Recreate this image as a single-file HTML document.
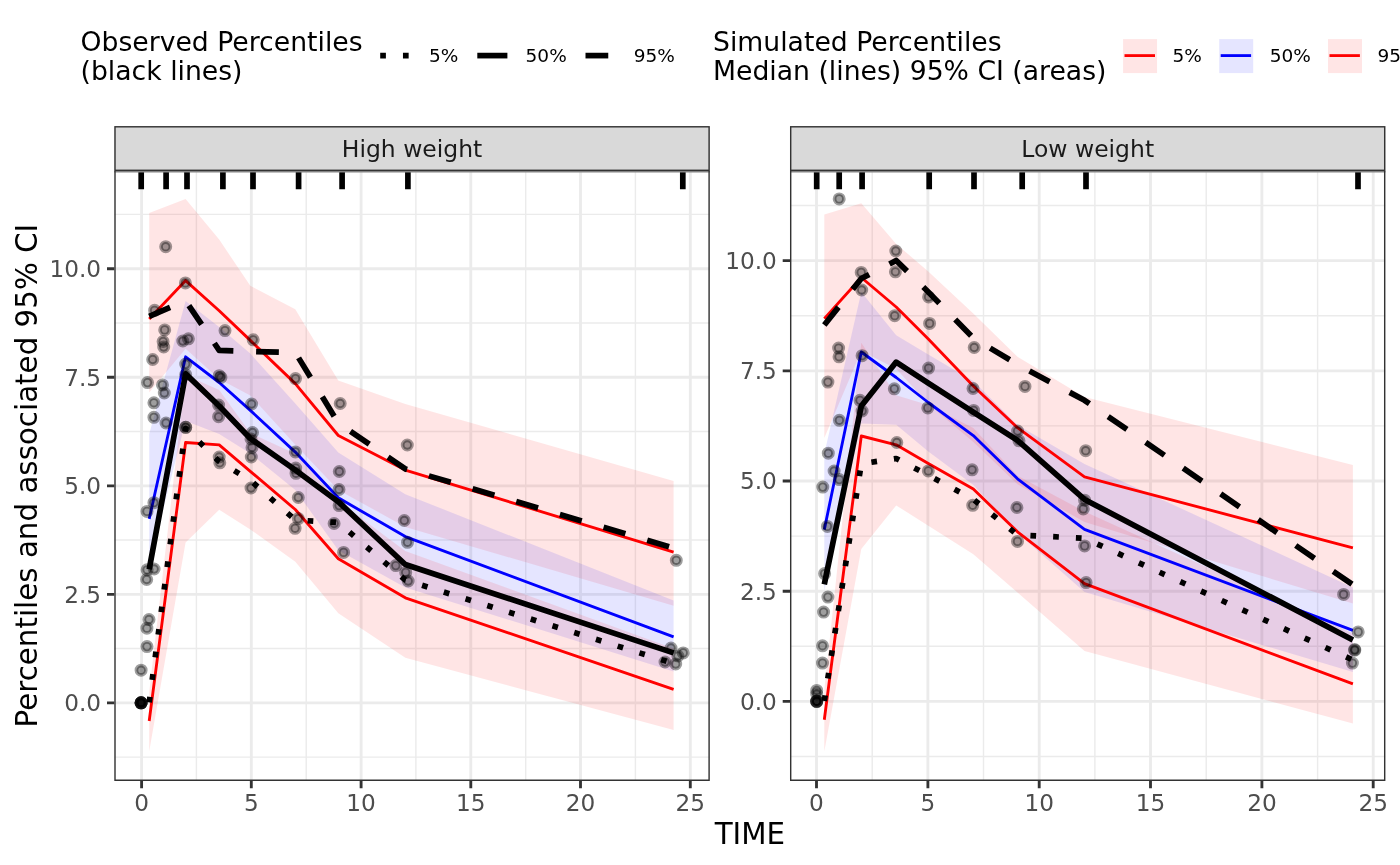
<!DOCTYPE html>
<html lang="en">
<head>
<meta charset="utf-8">
<title>VPC</title>
<style>html,body{margin:0;padding:0;background:#fff}svg{display:block}</style>
</head>
<body>
<svg width="1400" height="865" viewBox="0 0 1400 865" font-family="'DejaVu Sans', 'Liberation Sans', sans-serif">
<rect width="1400" height="865" fill="#fff"/>
<clipPath id="clip1"><rect x="114.3" y="171" width="595.5" height="609.9"/></clipPath>
<rect x="114.3" y="171" width="595.5" height="609.9" fill="#fff"/>
<g clip-path="url(#clip1)">
<path d="M114.3 757.1H709.8M114.3 648.5H709.8M114.3 540H709.8M114.3 431.5H709.8M114.3 323H709.8M114.3 214.4H709.8M196.4 171V780.9M306.2 171V780.9M415.9 171V780.9M525.7 171V780.9M635.4 171V780.9" stroke="#ebebeb" stroke-width="1.42" fill="none"/>
<path d="M114.3 702.8H709.8M114.3 594.3H709.8M114.3 485.8H709.8M114.3 377.2H709.8M114.3 268.7H709.8M141.6 171V780.9M251.3 171V780.9M361.1 171V780.9M470.8 171V780.9M580.5 171V780.9M690.3 171V780.9" stroke="#ebebeb" stroke-width="2.85" fill="none"/>
<polygon points="149.2,212.9 185.6,198.9 219.2,239.6 250.3,285.7 295.3,309.3 338.3,380.4 405.3,403.9 673.6,481 673.6,605.7 405.3,527 338.3,490 295.3,444.8 250.3,395.5 219.2,379 185.6,348.8 149.2,392.5" fill="#f00" fill-opacity="0.1"/>
<polygon points="149.2,434 185.6,301 219.2,326.9 250.3,353.6 295.3,403.4 338.3,452.5 405.3,494.2 673.6,600.4 673.6,671.5 405.3,587.4 338.3,550.3 295.3,490 250.3,453.5 219.2,433.9 185.6,421 149.2,565" fill="#00f" fill-opacity="0.1"/>
<polygon points="149.2,692 185.6,375 219.2,390.1 250.3,433 295.3,453.8 338.3,501 405.3,551 673.6,648.6 673.6,730 405.3,657.8 338.3,613.2 295.3,561.8 250.3,529.4 219.2,509.7 185.6,542.5 149.2,751.4" fill="#f00" fill-opacity="0.1"/>
<polyline points="149.2,318.9 185.6,280.6 219.2,310.7 250.3,340.4 295.3,383.6 338.3,435.5 405.3,470.1 673.6,552.1" fill="none" stroke="#f00" stroke-width="2.85" stroke-linejoin="round"/>
<polyline points="149.2,518.9 185.6,356.8 219.2,382.5 250.3,410.4 295.3,452.1 338.3,497.8 405.3,536.6 673.6,636.8" fill="none" stroke="#00f" stroke-width="2.85" stroke-linejoin="round"/>
<polyline points="149.2,721 185.6,442.5 219.2,444.9 250.3,471.3 295.3,509.5 338.3,558.7 405.3,597.8 673.6,689.3" fill="none" stroke="#f00" stroke-width="2.85" stroke-linejoin="round"/>
<polyline points="149.2,569.3 185.6,373.9 219.2,406 250.3,438.5 295.3,470 338.3,501.7 405.3,564.5 673.6,652.9" fill="none" stroke="#000" stroke-width="5.69" stroke-linejoin="round"/>
<polyline points="149.2,702.4 185.6,428.3 219.2,461.6 250.3,480.3 295.3,520 338.3,522.6 405.3,580 673.6,663.5" fill="none" stroke="#000" stroke-width="5.69" stroke-linejoin="round" stroke-dasharray="5.69 17.07"/>
<polyline points="149.2,316.4 185.6,300.7 219.2,350.4 250.3,351.5 295.3,352.5 338.3,423 405.3,468.9 673.6,548" fill="none" stroke="#000" stroke-width="5.69" stroke-linejoin="round" stroke-dasharray="22.76 22.76"/>
<g fill="#000" fill-opacity="0.38" stroke="#000" stroke-opacity="0.38" stroke-width="3.7">
<circle cx="165.7" cy="246.7" r="4.65"/>
<circle cx="185.4" cy="282.9" r="4.65"/>
<circle cx="154.6" cy="310.3" r="4.65"/>
<circle cx="164.7" cy="329.9" r="4.65"/>
<circle cx="225" cy="330.6" r="4.65"/>
<circle cx="253.2" cy="339.8" r="4.65"/>
<circle cx="163.1" cy="341.5" r="4.65"/>
<circle cx="163.7" cy="347" r="4.65"/>
<circle cx="182.8" cy="341" r="4.65"/>
<circle cx="188.4" cy="338.8" r="4.65"/>
<circle cx="152.7" cy="359.5" r="4.65"/>
<circle cx="185.7" cy="364.1" r="4.65"/>
<circle cx="185.7" cy="374.5" r="4.65"/>
<circle cx="219.2" cy="375.7" r="4.65"/>
<circle cx="220.9" cy="377.4" r="4.65"/>
<circle cx="295.5" cy="378.6" r="4.65"/>
<circle cx="147.5" cy="382.6" r="4.65"/>
<circle cx="162.5" cy="384.9" r="4.65"/>
<circle cx="164.3" cy="393" r="4.65"/>
<circle cx="153.9" cy="402.8" r="4.65"/>
<circle cx="251.6" cy="404" r="4.65"/>
<circle cx="218.6" cy="405.1" r="4.65"/>
<circle cx="340.2" cy="403.5" r="4.65"/>
<circle cx="153.9" cy="417.3" r="4.65"/>
<circle cx="218.6" cy="416.7" r="4.65"/>
<circle cx="166" cy="423" r="4.65"/>
<circle cx="185.7" cy="427.3" r="4.65"/>
<circle cx="185.7" cy="427.3" r="4.65"/>
<circle cx="252.5" cy="432.5" r="4.65"/>
<circle cx="251" cy="438.9" r="4.65"/>
<circle cx="252" cy="447.5" r="4.65"/>
<circle cx="251.3" cy="457" r="4.65"/>
<circle cx="251" cy="488" r="4.65"/>
<circle cx="407.3" cy="445" r="4.65"/>
<circle cx="295.4" cy="451.9" r="4.65"/>
<circle cx="295.7" cy="468.1" r="4.65"/>
<circle cx="296" cy="473.3" r="4.65"/>
<circle cx="298.3" cy="497.5" r="4.65"/>
<circle cx="298.3" cy="518.6" r="4.65"/>
<circle cx="295.1" cy="528.3" r="4.65"/>
<circle cx="339.3" cy="471.5" r="4.65"/>
<circle cx="339" cy="489.5" r="4.65"/>
<circle cx="339.1" cy="505.6" r="4.65"/>
<circle cx="334.1" cy="523.5" r="4.65"/>
<circle cx="343.6" cy="552.4" r="4.65"/>
<circle cx="404.3" cy="520.5" r="4.65"/>
<circle cx="407.5" cy="542.3" r="4.65"/>
<circle cx="395.8" cy="565.6" r="4.65"/>
<circle cx="405.7" cy="572.4" r="4.65"/>
<circle cx="408.2" cy="581" r="4.65"/>
<circle cx="219.2" cy="457" r="4.65"/>
<circle cx="219.8" cy="462.8" r="4.65"/>
<circle cx="153.9" cy="502.7" r="4.65"/>
<circle cx="147" cy="511.4" r="4.65"/>
<circle cx="147.1" cy="569.8" r="4.65"/>
<circle cx="154.1" cy="569" r="4.65"/>
<circle cx="146.7" cy="579.5" r="4.65"/>
<circle cx="149" cy="619.5" r="4.65"/>
<circle cx="146.9" cy="628.2" r="4.65"/>
<circle cx="147" cy="646.6" r="4.65"/>
<circle cx="141.1" cy="670.2" r="4.65"/>
<circle cx="141.1" cy="702.8" r="4.65"/>
<circle cx="141.1" cy="702.8" r="4.65"/>
<circle cx="141.1" cy="702.8" r="4.65"/>
<circle cx="141.1" cy="702.8" r="4.65"/>
<circle cx="141.1" cy="702.8" r="4.65"/>
<circle cx="141.1" cy="702.8" r="4.65"/>
<circle cx="676.3" cy="560.3" r="4.65"/>
<circle cx="671" cy="648" r="4.65"/>
<circle cx="683.2" cy="652.9" r="4.65"/>
<circle cx="677.9" cy="656" r="4.65"/>
<circle cx="665" cy="662" r="4.65"/>
<circle cx="675.7" cy="664" r="4.65"/>
</g>
<path d="M141.2 171V189.3M166.1 171V189.3M187 171V189.3M222.9 171V189.3M253 171V189.3M298.6 171V189.3M342.1 171V189.3M407.9 171V189.3M682.8 171V189.3" stroke="#000" stroke-width="5.69" fill="none"/>
</g>
<path d="M114.3 171.7H709.8" fill="none" stroke="#858585" stroke-width="1.42"/>
<path d="M115 171V780.2H709.1V171" fill="none" stroke="#333" stroke-width="1.42"/>
<rect x="114.3" y="126.1" width="595.5" height="44.9" fill="#d9d9d9"/>
<rect x="115" y="126.8" width="594.1" height="43.5" fill="none" stroke="#333" stroke-width="1.42"/>
<text x="412" y="156.5" text-anchor="middle" font-size="23.47" fill="#1a1a1a">High weight</text>
<text x="141.6" y="810.8" text-anchor="middle" font-size="23.2" fill="#4d4d4d">0</text>
<text x="251.3" y="810.8" text-anchor="middle" font-size="23.2" fill="#4d4d4d">5</text>
<text x="361.1" y="810.8" text-anchor="middle" font-size="23.2" fill="#4d4d4d">10</text>
<text x="470.8" y="810.8" text-anchor="middle" font-size="23.2" fill="#4d4d4d">15</text>
<text x="580.5" y="810.8" text-anchor="middle" font-size="23.2" fill="#4d4d4d">20</text>
<text x="690.3" y="810.8" text-anchor="middle" font-size="23.2" fill="#4d4d4d">25</text>
<text x="101.1" y="711.1" text-anchor="end" font-size="23.2" fill="#4d4d4d">0.0</text>
<text x="101.1" y="602.6" text-anchor="end" font-size="23.2" fill="#4d4d4d">2.5</text>
<text x="101.1" y="494.1" text-anchor="end" font-size="23.2" fill="#4d4d4d">5.0</text>
<text x="101.1" y="385.5" text-anchor="end" font-size="23.2" fill="#4d4d4d">7.5</text>
<text x="101.1" y="277" text-anchor="end" font-size="23.2" fill="#4d4d4d">10.0</text>
<path d="M141.6 780.9v7.3M251.3 780.9v7.3M361.1 780.9v7.3M470.8 780.9v7.3M580.5 780.9v7.3M690.3 780.9v7.3M114.3 702.8h-7.3M114.3 594.3h-7.3M114.3 485.8h-7.3M114.3 377.2h-7.3M114.3 268.7h-7.3" stroke="#333" stroke-width="2.85" fill="none"/>
<clipPath id="clip2"><rect x="790" y="171" width="595.4" height="609.9"/></clipPath>
<rect x="790" y="171" width="595.4" height="609.9" fill="#fff"/>
<g clip-path="url(#clip2)">
<path d="M790 756.5H1385.4M790 646.3H1385.4M790 536.1H1385.4M790 425.9H1385.4M790 315.7H1385.4M790 205.5H1385.4M872.2 171V780.9M983.5 171V780.9M1094.9 171V780.9M1206.2 171V780.9M1317.6 171V780.9" stroke="#ebebeb" stroke-width="1.42" fill="none"/>
<path d="M790 701.4H1385.4M790 591.2H1385.4M790 481H1385.4M790 370.8H1385.4M790 260.6H1385.4M816.5 171V780.9M927.9 171V780.9M1039.2 171V780.9M1150.5 171V780.9M1261.9 171V780.9M1373.2 171V780.9" stroke="#ebebeb" stroke-width="2.85" fill="none"/>
<polygon points="824.3,214.4 861.3,203.2 896.2,243.9 928.3,271.4 973.3,313.6 1017.5,356.8 1084.5,397 1352.9,465 1352.9,603.6 1084.5,522 1017.5,484.3 973.3,442 928.3,404 896.2,368.7 861.3,351 824.3,438" fill="#f00" fill-opacity="0.1"/>
<polygon points="824.3,453.8 861.3,292 896.2,335.3 928.3,354.4 973.3,381 1017.5,425 1084.5,464 1352.9,587.5 1352.9,672.1 1084.5,592 1017.5,533 973.3,485 928.3,451.6 896.2,424.8 861.3,423.6 824.3,590.7" fill="#00f" fill-opacity="0.1"/>
<polygon points="824.3,690 861.3,342.7 896.2,395.3 928.3,405.1 973.3,428 1017.5,475.7 1084.5,511.5 1352.9,633.6 1352.9,723.6 1084.5,651 1017.5,592.5 973.3,554.3 928.3,525.7 896.2,505.4 861.3,548.9 824.3,751.4" fill="#f00" fill-opacity="0.1"/>
<polyline points="824.3,318.6 861.3,277.5 896.2,307 928.3,339 973.3,386 1017.5,427.7 1084.5,476.8 1352.9,547.9" fill="none" stroke="#f00" stroke-width="2.85" stroke-linejoin="round"/>
<polyline points="824.3,529.6 861.3,352 896.2,377.5 928.3,402.5 973.3,435.6 1017.5,478.8 1084.5,529.4 1352.9,630.4" fill="none" stroke="#00f" stroke-width="2.85" stroke-linejoin="round"/>
<polyline points="824.3,719.7 861.3,436 896.2,444.8 928.3,463.5 973.3,489.1 1017.5,531.8 1084.5,583.6 1352.9,683.9" fill="none" stroke="#f00" stroke-width="2.85" stroke-linejoin="round"/>
<polyline points="824.3,584.3 861.3,406.1 896.2,362.1 928.3,383.2 973.3,412.2 1017.5,440.3 1084.5,499.4 1352.9,640" fill="none" stroke="#000" stroke-width="5.69" stroke-linejoin="round"/>
<polyline points="824.3,701 861.3,463.7 896.2,458.5 928.3,475.2 973.3,499.3 1017.5,535 1084.5,538.2 1352.9,660" fill="none" stroke="#000" stroke-width="5.69" stroke-linejoin="round" stroke-dasharray="5.69 17.07"/>
<polyline points="824.3,324.9 861.3,278.5 896.2,260.5 928.3,292 973.3,338 1017.5,364.5 1084.5,400.3 1352.9,584.8" fill="none" stroke="#000" stroke-width="5.69" stroke-linejoin="round" stroke-dasharray="22.76 22.76"/>
<g fill="#000" fill-opacity="0.38" stroke="#000" stroke-opacity="0.38" stroke-width="3.7">
<circle cx="839.2" cy="198.9" r="4.65"/>
<circle cx="895.8" cy="251" r="4.65"/>
<circle cx="861.2" cy="272.4" r="4.65"/>
<circle cx="895.4" cy="271.8" r="4.65"/>
<circle cx="861.7" cy="290" r="4.65"/>
<circle cx="928.6" cy="296.9" r="4.65"/>
<circle cx="894.7" cy="315.7" r="4.65"/>
<circle cx="929.6" cy="323.4" r="4.65"/>
<circle cx="838.6" cy="348.1" r="4.65"/>
<circle cx="839" cy="356.8" r="4.65"/>
<circle cx="974.2" cy="347.5" r="4.65"/>
<circle cx="862.1" cy="355.7" r="4.65"/>
<circle cx="827.9" cy="382.1" r="4.65"/>
<circle cx="928.6" cy="368.1" r="4.65"/>
<circle cx="894.3" cy="388.8" r="4.65"/>
<circle cx="973" cy="388.5" r="4.65"/>
<circle cx="1025" cy="386.4" r="4.65"/>
<circle cx="860" cy="400.3" r="4.65"/>
<circle cx="862.1" cy="411" r="4.65"/>
<circle cx="927.8" cy="407.9" r="4.65"/>
<circle cx="973.6" cy="410.4" r="4.65"/>
<circle cx="839.4" cy="420.3" r="4.65"/>
<circle cx="1017.6" cy="431" r="4.65"/>
<circle cx="1019" cy="440.8" r="4.65"/>
<circle cx="896.8" cy="442.5" r="4.65"/>
<circle cx="1085.7" cy="450.7" r="4.65"/>
<circle cx="828.3" cy="453.2" r="4.65"/>
<circle cx="928.3" cy="470.9" r="4.65"/>
<circle cx="972.1" cy="469.8" r="4.65"/>
<circle cx="834.1" cy="471" r="4.65"/>
<circle cx="839.3" cy="479.6" r="4.65"/>
<circle cx="822.8" cy="487.1" r="4.65"/>
<circle cx="972.7" cy="505.3" r="4.65"/>
<circle cx="1016.9" cy="507.5" r="4.65"/>
<circle cx="1084.6" cy="500.2" r="4.65"/>
<circle cx="1083.3" cy="508.9" r="4.65"/>
<circle cx="827.4" cy="526.4" r="4.65"/>
<circle cx="1017.5" cy="541.4" r="4.65"/>
<circle cx="1084.6" cy="545.9" r="4.65"/>
<circle cx="824.6" cy="573.6" r="4.65"/>
<circle cx="1086.1" cy="582.6" r="4.65"/>
<circle cx="827.9" cy="597.1" r="4.65"/>
<circle cx="823.6" cy="612.1" r="4.65"/>
<circle cx="822.5" cy="645.8" r="4.65"/>
<circle cx="822.5" cy="663.1" r="4.65"/>
<circle cx="816.7" cy="690.4" r="4.65"/>
<circle cx="816.7" cy="694" r="4.65"/>
<circle cx="816.7" cy="701.3" r="4.65"/>
<circle cx="816.7" cy="701.3" r="4.65"/>
<circle cx="816.7" cy="701.3" r="4.65"/>
<circle cx="816.7" cy="701.3" r="4.65"/>
<circle cx="1343.6" cy="594.4" r="4.65"/>
<circle cx="1358.2" cy="631.9" r="4.65"/>
<circle cx="1354.6" cy="649.6" r="4.65"/>
<circle cx="1354.8" cy="650.2" r="4.65"/>
<circle cx="1352.4" cy="663.1" r="4.65"/>
</g>
<path d="M816.7 171V189.3M839.2 171V189.3M862.1 171V189.3M929.2 171V189.3M974 171V189.3M1022.2 171V189.3M1086 171V189.3M1358 171V189.3" stroke="#000" stroke-width="5.69" fill="none"/>
</g>
<path d="M790 171.7H1385.4" fill="none" stroke="#858585" stroke-width="1.42"/>
<path d="M790.7 171V780.2H1384.7V171" fill="none" stroke="#333" stroke-width="1.42"/>
<rect x="790" y="126.1" width="595.4" height="44.9" fill="#d9d9d9"/>
<rect x="790.7" y="126.8" width="594" height="43.5" fill="none" stroke="#333" stroke-width="1.42"/>
<text x="1087.7" y="156.5" text-anchor="middle" font-size="23.47" fill="#1a1a1a">Low weight</text>
<text x="816.5" y="810.8" text-anchor="middle" font-size="23.2" fill="#4d4d4d">0</text>
<text x="927.9" y="810.8" text-anchor="middle" font-size="23.2" fill="#4d4d4d">5</text>
<text x="1039.2" y="810.8" text-anchor="middle" font-size="23.2" fill="#4d4d4d">10</text>
<text x="1150.5" y="810.8" text-anchor="middle" font-size="23.2" fill="#4d4d4d">15</text>
<text x="1261.9" y="810.8" text-anchor="middle" font-size="23.2" fill="#4d4d4d">20</text>
<text x="1373.2" y="810.8" text-anchor="middle" font-size="23.2" fill="#4d4d4d">25</text>
<text x="776.8" y="709.7" text-anchor="end" font-size="23.2" fill="#4d4d4d">0.0</text>
<text x="776.8" y="599.5" text-anchor="end" font-size="23.2" fill="#4d4d4d">2.5</text>
<text x="776.8" y="489.3" text-anchor="end" font-size="23.2" fill="#4d4d4d">5.0</text>
<text x="776.8" y="379.1" text-anchor="end" font-size="23.2" fill="#4d4d4d">7.5</text>
<text x="776.8" y="268.9" text-anchor="end" font-size="23.2" fill="#4d4d4d">10.0</text>
<path d="M816.5 780.9v7.3M927.9 780.9v7.3M1039.2 780.9v7.3M1150.5 780.9v7.3M1261.9 780.9v7.3M1373.2 780.9v7.3M790 701.4h-7.3M790 591.2h-7.3M790 481h-7.3M790 370.8h-7.3M790 260.6h-7.3" stroke="#333" stroke-width="2.85" fill="none"/>
<text x="749.9" y="843.8" text-anchor="middle" font-size="29.33" fill="#000">TIME</text>
<text transform="translate(36.6,475.6) rotate(-90)" text-anchor="middle" font-size="29.33" fill="#000">Percentiles and associated 95% CI</text>
<text font-size="26.67" fill="#000"><tspan x="80.5" y="51.1">Observed Percentiles</tspan><tspan x="80.5" y="79.5">(black lines)</tspan></text>
<path d="M380.2 55.6H410.3" stroke="#000" stroke-width="5.69" stroke-dasharray="5.69 17.07" fill="none"/>
<path d="M477.3 55.6H507.4" stroke="#000" stroke-width="5.69" fill="none"/>
<path d="M585.5 55.6H615.6" stroke="#000" stroke-width="5.69" stroke-dasharray="22.76 22.76" fill="none"/>
<g font-size="18.5" fill="#000"><text x="429" y="61.9">5%</text><text x="525.6" y="61.9">50%</text><text x="633.7" y="61.9">95%</text></g>
<text font-size="26.67" fill="#000"><tspan x="713" y="51.1">Simulated Percentiles</tspan><tspan x="713" y="79.5">Median (lines) 95% CI (areas)</tspan></text>
<rect x="1123.05" y="39.1" width="34" height="34" fill="#f00" fill-opacity="0.1"/>
<path d="M1124.5 55.6H1155.0" stroke="#f00" stroke-width="2.85" fill="none"/>
<rect x="1219.2" y="39.1" width="34" height="34" fill="#00f" fill-opacity="0.1"/>
<path d="M1220.7 55.6H1251.1" stroke="#00f" stroke-width="2.85" fill="none"/>
<rect x="1328" y="39.1" width="34" height="34" fill="#f00" fill-opacity="0.1"/>
<path d="M1329.5 55.6H1359.9" stroke="#f00" stroke-width="2.85" fill="none"/>
<g font-size="18.5" fill="#000"><text x="1172.6" y="61.9">5%</text><text x="1269.8" y="61.9">50%</text><text x="1377.4" y="61.9">95%</text></g>
</svg>
</body>
</html>
